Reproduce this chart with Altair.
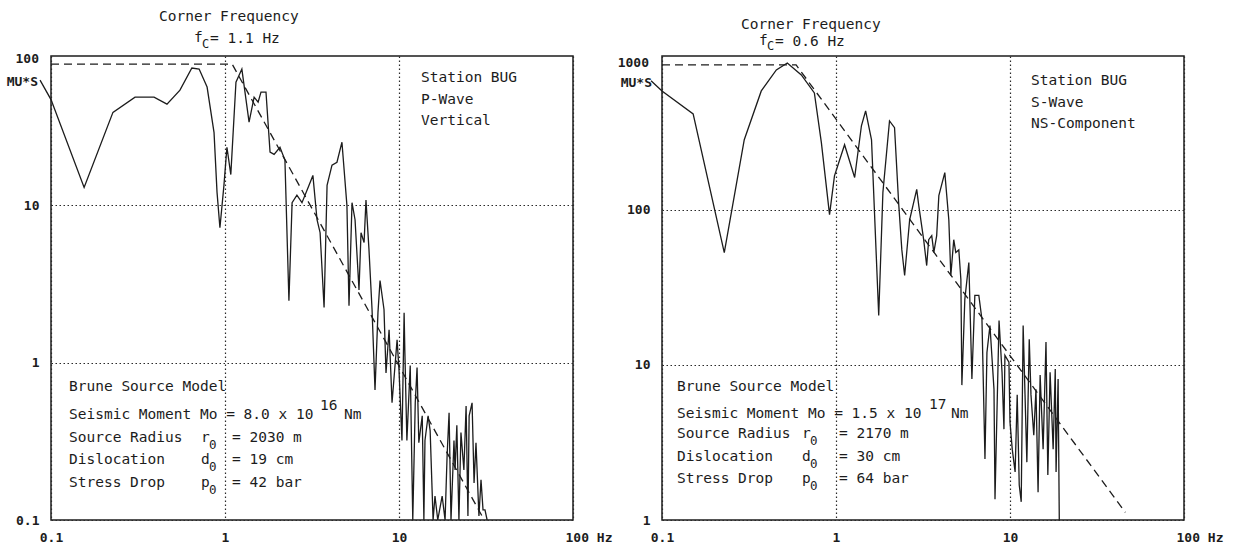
import altair as alt
import pandas as pd

# ---------------- data ----------------
# Left panel: P-wave, vertical (frequency in Hz, amplitude in MU*S)
p_freq = [0.0865, 0.1, 0.155, 0.227, 0.304, 0.391, 0.464, 0.551, 0.645, 0.71,
          0.789, 0.865, 0.90, 0.935, 0.986, 1.026, 1.08, 1.156, 1.25, 1.375,
          1.47, 1.55, 1.61, 1.72, 1.815, 1.915, 2.07, 2.21, 2.33, 2.43,
          2.59, 2.77, 3.04, 3.2, 3.38, 3.52, 3.71, 3.86, 4.12, 4.4,
          4.7, 5.02, 5.16, 5.37, 5.59, 5.89, 6.05, 6.3, 6.46, 6.72,
          7.0, 7.28, 7.57, 7.78, 8.2, 8.42, 8.77, 9.12, 9.75, 10.0,
          10.4, 10.7, 10.8, 11.1, 11.6, 12.0, 12.4, 12.7, 13.0, 13.6,
          13.9, 14.1, 14.7, 15.1, 15.7, 16.1, 16.7, 17.7, 18.4, 18.9,
          19.4, 19.9, 20.7, 21.0, 21.5, 22.1, 22.7, 23.6, 24.3, 24.9,
          25.3, 26.3, 27.0, 27.7, 28.8, 29.6, 30.4, 31.2, 32.1]
p_amp = [62.5, 47, 13, 39, 48.7, 48.7, 44, 54, 74.6, 73.5,
         56.5, 29, 12.1, 7.2, 13.4, 23.4, 15.7, 60.7, 73.5, 33.8,
         48.7, 45.3, 52.5, 52.5, 21.8, 21.1, 23.4, 19.4, 2.48, 10.4,
         11.6, 10.4, 13.4, 15.5, 8.1, 6.7, 2.24, 13.4, 18, 18.8,
         25.2, 10, 2.3, 10.4, 8.1, 2.9, 6.7, 5.8, 10.8, 5.25,
         2.18, 0.67, 2.08, 3.33, 2.18, 0.86, 1.62, 0.556, 1.40, 0.90,
         0.32, 2.08, 1.21, 0.32, 0.96, 0.1, 0.556, 0.93, 0.31, 0.46,
         0.1, 0.32, 0.46, 0.37, 0.1, 0.142, 0.1, 0.142, 0.1, 0.256,
         0.48, 0.1, 0.32, 0.208, 0.40, 0.1, 0.36, 0.208, 0.53, 0.106,
         0.46, 0.556, 0.172, 0.31, 0.106, 0.18, 0.116, 0.116, 0.1]
p_model_freq = [0.1, 1.1, 30]
p_model_amp = [79, 79, 0.106]

# Right panel: S-wave, NS component
s_freq = [0.0865, 0.1, 0.151, 0.228, 0.297, 0.372, 0.454, 0.525, 0.632, 0.751,
          0.824, 0.918, 0.98, 1.12, 1.28, 1.40, 1.48, 1.60, 1.76, 1.86,
          2.03, 2.17, 2.29, 2.39, 2.48, 2.65, 2.91, 2.99, 3.19, 3.32,
          3.41, 3.55, 3.65, 3.79, 3.90, 4.22, 4.45, 4.57, 4.75, 4.88,
          5.08, 5.22, 5.29, 5.50, 5.80, 6.04, 6.28, 6.62, 6.90, 7.18,
          7.37, 7.67, 8.09, 8.20, 8.65, 9.00, 9.23, 9.35, 9.86, 10.0,
          10.3, 10.7, 11.0, 11.3, 11.6, 11.9, 12.2, 12.5, 12.9, 13.2,
          13.7, 14.1, 14.5, 14.9, 15.5, 16.1, 16.5, 17.0, 17.7, 18.2,
          18.4, 18.9, 19.2]
s_amp = [676, 582, 414, 52.9, 282, 582, 795, 881, 738, 565,
         270, 92.9, 165, 262, 161, 347, 433, 282, 20.8, 129,
         373, 337, 111, 55, 37.6, 86, 135, 106, 64, 43.6,
         64, 68, 53, 68, 123, 173, 86, 37.6, 64, 53,
         55, 35.5, 7.4, 26.4, 45.6, 8.1, 28, 28, 19.6, 2.47,
         12.0, 17.9, 6.95, 1.36, 19.3, 8.95, 3.85, 11.5, 10.4, 4.27,
         2.86, 2.04, 6.4, 1.68, 1.31, 17.9, 6.4, 2.36, 14.6, 6.4,
         3.52, 6.95, 1.51, 8.6, 2.86, 14.0, 1.95, 8.95, 2.86, 9.4,
         2.04, 8.1, 1.0]
s_model_freq = [0.1, 0.59, 46]
s_model_amp = [856, 856, 1.12]

x_ticks = [0.1, 1, 10, 100]
p_y_ticks = [0.1, 1, 10]
s_y_ticks = [1, 10, 100]
p_y_domain = [0.1, 89]
s_y_domain = [1, 977]

# annotation texts: (text, x offset px, y offset px, font size)
p_texts = [
    ("Corner Frequency", 108, -39, 14.5), ("f", 143, -18, 14.5), ("C", 151, -12, 12),
    ("= 1.1 Hz", 159, -17, 14.5),
    ("Station BUG", 370, 22, 14.5), ("P-Wave", 370, 44, 14.5), ("Vertical", 370, 65, 14.5),
    ("Brune Source Model", 18, 331, 14.5),
    ("Seismic Moment Mo = 8.0 x 10", 18, 359, 14.5), ("16", 269, 350, 14.5), ("Nm", 293, 359, 14.5),
    ("Source Radius", 18, 382, 14.5), ("r", 150, 382, 14.5), ("0", 158, 389, 12.5), ("= 2030 m", 181, 382, 14.5),
    ("Dislocation", 18, 404, 14.5), ("d", 150, 404, 14.5), ("0", 158, 411, 12.5), ("= 19 cm", 181, 404, 14.5),
    ("Stress Drop", 18, 427, 14.5), ("p", 150, 427, 14.5), ("0", 158, 434, 12.5), ("= 42 bar", 181, 427, 14.5),
]
s_texts = [
    ("Corner Frequency", 79, -31, 14.5), ("f", 97, -15, 14.5), ("C", 105, -10, 12),
    ("= 0.6 Hz", 113, -14, 14.5),
    ("Station BUG", 369, 25, 14.5), ("S-Wave", 369, 47, 14.5), ("NS-Component", 369, 68, 14.5),
    ("Brune Source Model", 15, 331, 14.5),
    ("Seismic Moment Mo = 1.5 x 10", 15, 358, 14.5), ("17", 267, 349, 14.5), ("Nm", 289, 358, 14.5),
    ("Source Radius", 15, 378, 14.5), ("r", 140, 378, 14.5), ("0", 148, 385, 12.5), ("= 2170 m", 177, 378, 14.5),
    ("Dislocation", 15, 401, 14.5), ("d", 140, 401, 14.5), ("0", 148, 408, 12.5), ("= 30 cm", 177, 401, 14.5),
    ("Stress Drop", 15, 423, 14.5), ("p", 140, 423, 14.5), ("0", 148, 430, 12.5), ("= 64 bar", 177, 423, 14.5),
]
p_unit_labels = [("100", -12, 3), ("MU*S", -13, 26)]
s_unit_labels = [("1000", -13, 7), ("MU*S", -10, 27)]

W, H = 522, 464
INK = "#1c1c1c"
MONO = "DejaVu Sans Mono"


def panel(freq, amp, mfreq, mamp, ydomain, yticks, texts, units):
    spec = pd.DataFrame({"f": freq, "a": amp, "i": range(len(freq))})
    model = pd.DataFrame({"f": mfreq, "a": mamp, "i": range(len(mfreq))})
    xscale = alt.Scale(type="log", domain=[0.1, 100], nice=False)
    yscale = alt.Scale(type="log", domain=ydomain, nice=False)
    xaxis = alt.Axis(
        values=x_ticks, format="~g",
        labelExpr="datum.value >= 100 ? '100 Hz' : datum.label",
        labelAlign={"condition": {"test": "datum.value >= 100", "value": "left"}, "value": "center"},
        labelOffset={"condition": {"test": "datum.value >= 100", "value": -8}, "value": 0},
        grid=True, gridDash=[1.5, 2.5], gridColor="#2a2a2a", gridWidth=1.2, gridOpacity=1,
        domain=False, ticks=False, labelFont=MONO, labelFontWeight="bold", labelFontSize=13,
        labelColor=INK, labelPadding=11, labelOverlap=False, title=None,
    )
    yaxis = alt.Axis(
        values=yticks, format="~g",
        grid=True, gridDash=[1.5, 2.5], gridColor="#2a2a2a", gridWidth=1.2, gridOpacity=1,
        domain=False, ticks=False, labelFont=MONO, labelFontWeight="bold", labelFontSize=13,
        labelColor=INK, labelPadding=12, labelOverlap=False, title=None,
    )
    spec_line = alt.Chart(spec).mark_line(color=INK, strokeWidth=1.3).encode(
        x=alt.X("f:Q", scale=xscale, axis=xaxis),
        y=alt.Y("a:Q", scale=yscale, axis=yaxis),
        order="i:Q",
    )
    model_line = alt.Chart(model).mark_line(color=INK, strokeWidth=1.3, strokeDash=[8, 5]).encode(
        x=alt.X("f:Q", scale=xscale, axis=None),
        y=alt.Y("a:Q", scale=yscale, axis=None),
        order="i:Q",
    )
    tdf = pd.DataFrame(texts, columns=["t", "px", "py", "fs"])
    text_layer = alt.Chart(tdf).mark_text(
        align="left", baseline="middle", font=MONO, color=INK
    ).encode(
        x=alt.X("px:Q", scale=None, axis=None),
        y=alt.Y("py:Q", scale=None, axis=None),
        size=alt.Size("fs:Q", scale=None, legend=None),
        text="t:N",
    )
    udf = pd.DataFrame(units, columns=["t", "px", "py"])
    unit_layer = alt.Chart(udf).mark_text(
        align="right", baseline="middle", font=MONO, fontWeight="bold", fontSize=13, color=INK
    ).encode(
        x=alt.X("px:Q", scale=None, axis=None),
        y=alt.Y("py:Q", scale=None, axis=None),
        text="t:N",
    )
    return alt.layer(spec_line, model_line, text_layer, unit_layer).resolve_scale(
        x="independent", y="independent", size="independent"
    ).properties(width=W, height=H)


left = panel(p_freq, p_amp, p_model_freq, p_model_amp, p_y_domain, p_y_ticks, p_texts, p_unit_labels)
right = panel(s_freq, s_amp, s_model_freq, s_model_amp, s_y_domain, s_y_ticks, s_texts, s_unit_labels)

chart = alt.hconcat(left, right, spacing=89, bounds="flush").properties(
    padding={"left": 5, "top": 8, "right": 5, "bottom": 5},
    background="white",
).configure_view(stroke=INK, strokeWidth=1.5)

chart.save("out.html", embed_options={"renderer": "svg", "actions": False})
